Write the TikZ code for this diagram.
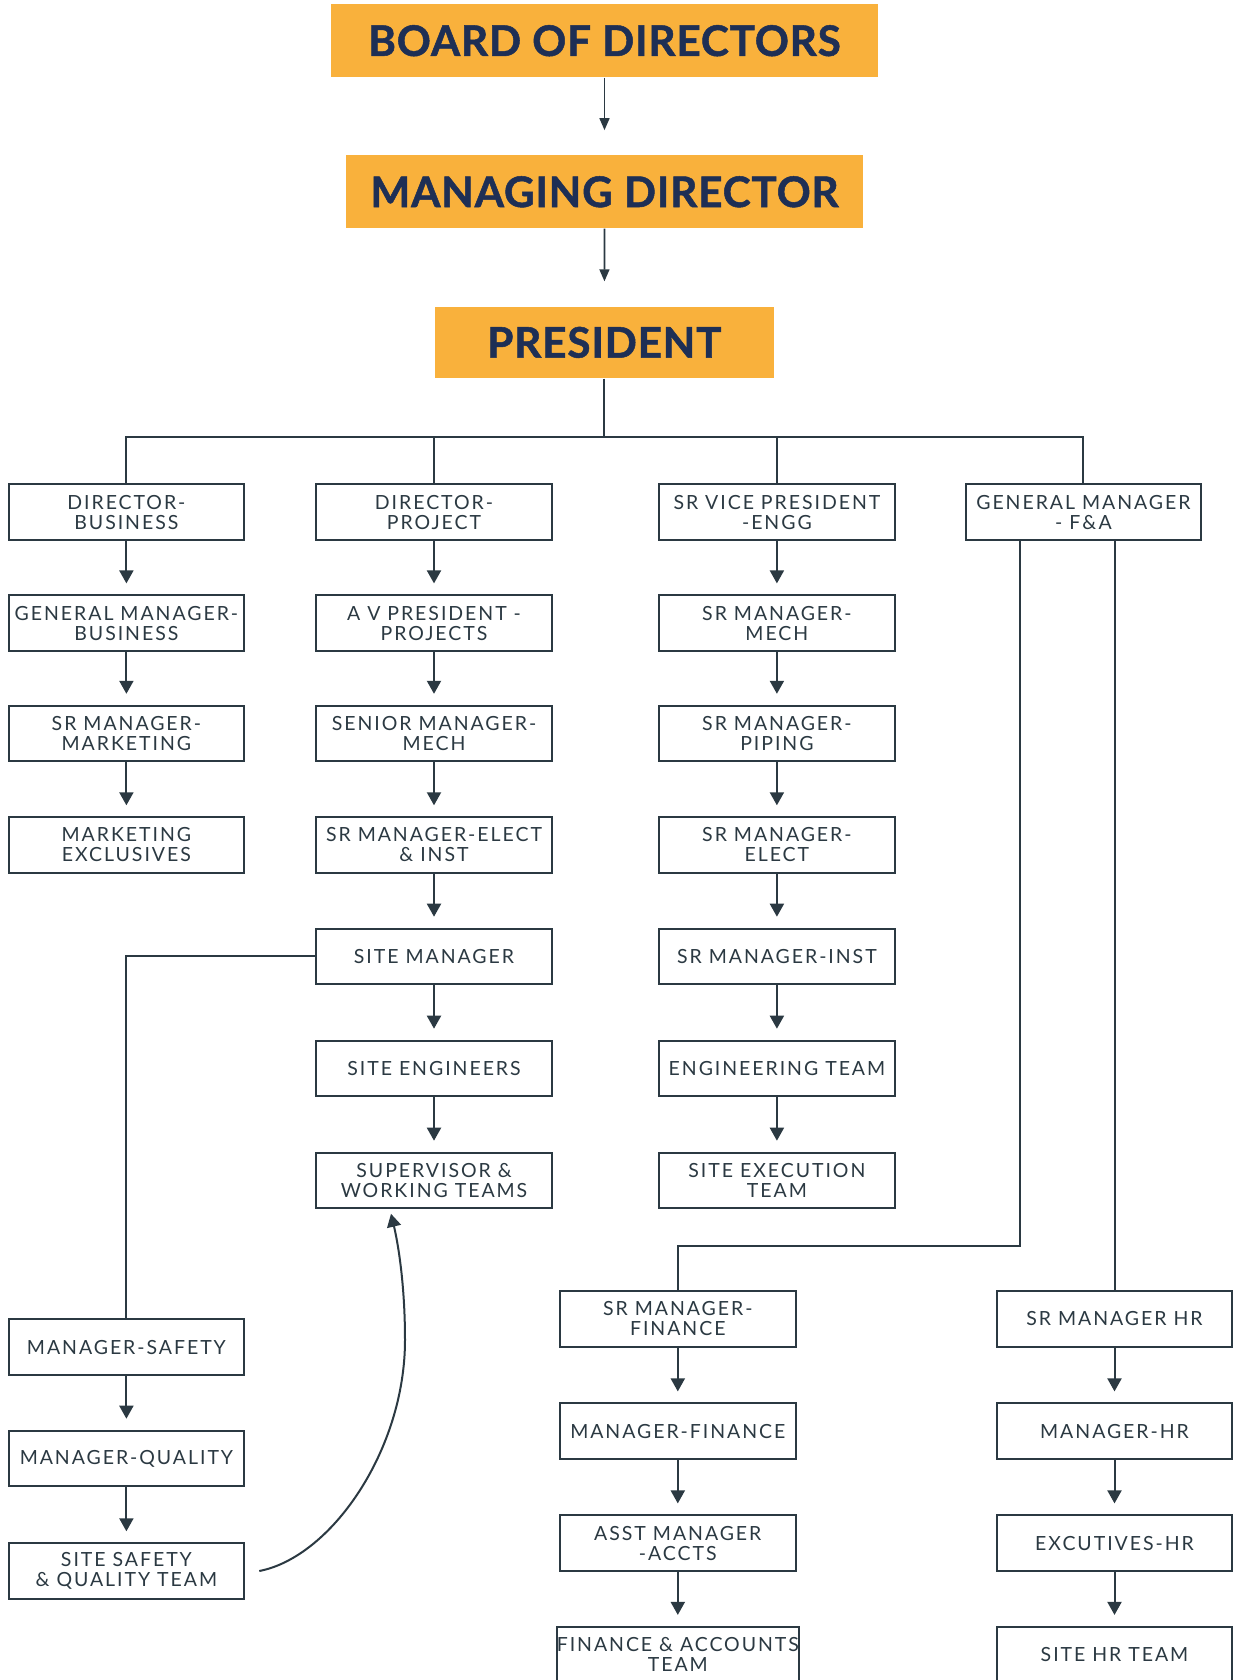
\documentclass[tikz,border=0pt]{standalone}
\usepackage{fontspec}
\setmainfont{Lato}
\newfontfamily\boxfont[LetterSpace=10]{Lato}
\newfontfamily\topfont[LetterSpace=2,BoldFeatures={FakeBold=1.2}]{Lato}
\usetikzlibrary{arrows.meta,calc}
\definecolor{ink}{HTML}{2B3942}
\definecolor{orangebox}{HTML}{F9B13C}
\definecolor{navy}{HTML}{1E2F55}
\begin{document}
\begin{tikzpicture}[x=0.5pt,y=-0.5pt,
 obox/.style={fill=orangebox, draw=none, text=navy, font=\topfont\bfseries\fontsize{21.1}{24}\selectfont, inner sep=0pt},
 rbox/.style={draw=ink, line width=1pt, fill=white, text=ink, minimum width=117.9pt, minimum height=27.9pt, inner sep=0pt, align=center, font=\boxfont\fontsize{9.75}{10}\selectfont},
 arr/.style={draw=ink, line width=1pt, -{Triangle[width=7pt,length=6.5pt]}, shorten >=5.4pt},
 tarr/.style={draw=ink, line width=0.8pt, -{Triangle[width=5pt,length=6pt]}, shorten >=12.4pt},
 conn/.style={draw=ink, line width=1pt},
]
\fill[white] (0,0) rectangle (1243,1680);
\useasboundingbox (0,0) rectangle (1243,1680);

% top
\node[obox, minimum width=273.5pt, minimum height=36.45pt] (bod) at (604.5,40.7) {BOARD OF DIRECTORS};
\node[obox, minimum width=258.3pt, minimum height=36.45pt] (md) at (604.5,191.8) {MANAGING DIRECTOR};
\node[obox, minimum width=169.3pt, minimum height=35.9pt] (pres) at (604.4,342.4) {PRESIDENT};
\draw[tarr] (bod) -- (md);
\draw[tarr] (md) -- (pres);

% column 1
\node[rbox] (db)  at (126.4,512.2) {DIRECTOR-\\BUSINESS};
\node[rbox] (gmb) at (126.4,623.1) {GENERAL MANAGER-\\BUSINESS};
\node[rbox] (smm) at (126.4,733.5) {SR MANAGER-\\MARKETING};
\node[rbox] (mex) at (126.4,845.0) {MARKETING\\EXCLUSIVES};
% column 2
\node[rbox] (dp)    at (434.0,512.2) {DIRECTOR-\\PROJECT};
\node[rbox] (avp)   at (434.0,623.1) {A V PRESIDENT -\\PROJECTS};
\node[rbox] (snm)   at (434.0,733.5) {SENIOR MANAGER-\\MECH};
\node[rbox] (smei)  at (434.0,845.0) {SR MANAGER-ELECT\\\& INST};
\node[rbox] (sm)    at (434.0,956.4) {SITE MANAGER};
\node[rbox] (se)    at (434.0,1068.4) {SITE ENGINEERS};
\node[rbox] (sup)   at (434.0,1180.4) {SUPERVISOR \&\\WORKING TEAMS};
% column 3
\node[rbox] (svp)   at (776.9,512.2) {SR VICE PRESIDENT\\-ENGG};
\node[rbox] (smme)  at (776.9,623.1) {SR MANAGER-\\MECH};
\node[rbox] (smp)   at (776.9,733.5) {SR MANAGER-\\PIPING};
\node[rbox] (sme)   at (776.9,845.0) {SR MANAGER-\\ELECT};
\node[rbox] (smi)   at (776.9,956.4) {SR MANAGER-INST};
\node[rbox] (eng)   at (776.9,1068.4) {ENGINEERING TEAM};
\node[rbox] (sex)   at (776.9,1180.4) {SITE EXECUTION\\TEAM};
% column 4
\node[rbox] (gmfa)  at (1083.4,512.2) {GENERAL MANAGER\\- F\&A};
% finance
\node[rbox] (smf)   at (677.8,1318.6) {SR MANAGER-\\FINANCE};
\node[rbox] (mf)    at (677.8,1431.1) {MANAGER-FINANCE};
\node[rbox] (ama)   at (677.8,1543.1) {ASST MANAGER\\-ACCTS};
\node[rbox] (fat)   at (677.8,1654.6) {FINANCE \& ACCOUNTS\\TEAM};
% HR
\node[rbox] (smhr)  at (1114.5,1318.6) {SR MANAGER HR};
\node[rbox] (mhr)   at (1114.5,1431.1) {MANAGER-HR};
\node[rbox] (ehr)   at (1114.5,1543.1) {EXCUTIVES-HR};
\node[rbox] (shr)   at (1114.5,1654.6) {SITE HR TEAM};
% safety
\node[rbox] (ms)    at (126.4,1347.0) {MANAGER-SAFETY};
\node[rbox] (mq)    at (126.4,1458.4) {MANAGER-QUALITY};
\node[rbox] (ssq)   at (126.4,1571.0) {SITE SAFETY\\\& QUALITY TEAM};

% bus
\coordinate (bus) at (604.4,437.2);
\draw[conn] (pres.south) -- (bus);
\draw[conn] (db.north) |- (bus) -| (gmfa.north);
\draw[conn] (dp.north) -- (dp.north |- bus);
\draw[conn] (svp.north) -- (svp.north |- bus);

% vertical arrows
\foreach \a/\b in {db/gmb,gmb/smm,smm/mex,dp/avp,avp/snm,snm/smei,smei/sm,sm/se,se/sup,
  svp/smme,smme/smp,smp/sme,sme/smi,smi/eng,eng/sex,smf/mf,mf/ama,ama/fat,
  smhr/mhr,mhr/ehr,ehr/shr,ms/mq,mq/ssq}
  \draw[arr] (\a) -- (\b);

% GM F&A branches
\coordinate (gfl) at (1020.2,0);
\coordinate (turn) at (0,1246.3);
\draw[conn] (gfl |- gmfa.south) -- (gfl |- turn) -| (smf.north);
\draw[conn] (smhr.north |- gmfa.south) -- (smhr.north);

% site manager to safety
\draw[conn] (sm.west) -| (ms.north);

% curve
\coordinate (cstart) at ($(ssq.east)+(14,0)$);
\coordinate (cmid) at (405,1340);
\coordinate (cend) at ($(sup.south)+(-43,4.5)$);
\draw[conn, -{Triangle[width=7pt,length=6.5pt]}] (cstart) .. controls +(72,-14) and +(0,110) .. (cmid) .. controls +(0,-60) and +(6,25) .. (cend);
\end{tikzpicture}
\end{document}
